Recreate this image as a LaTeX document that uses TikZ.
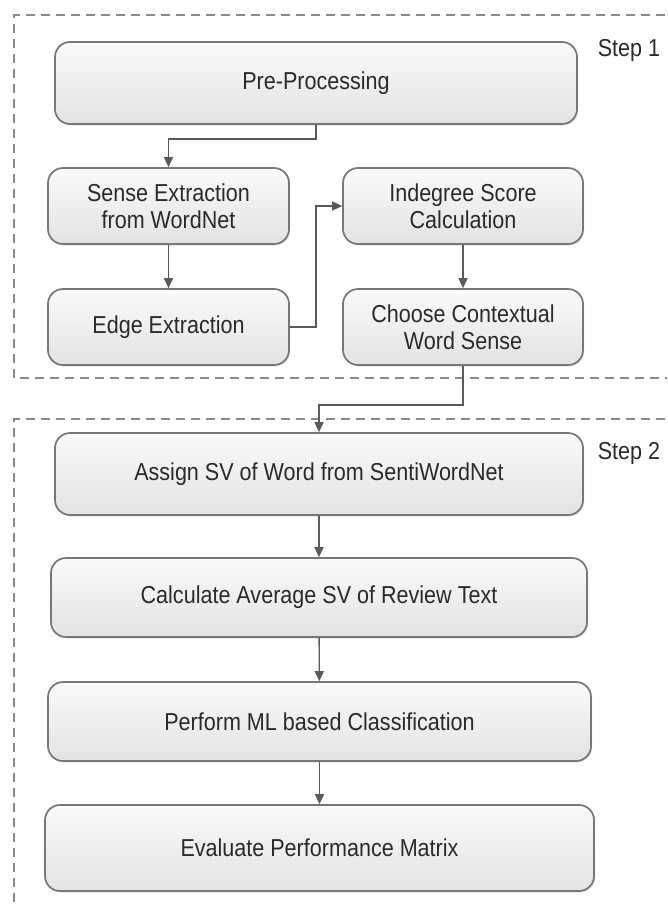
\documentclass[tikz,border=0pt]{standalone}
\usepackage{fontspec}
\setmainfont[FakeStretch=0.88]{Liberation Sans}
\usetikzlibrary{arrows.meta,shadows}
\definecolor{boxline}{HTML}{777777}
\definecolor{arrowc}{HTML}{5A5A5A}
\definecolor{dashc}{HTML}{8A8A8A}
\definecolor{txt}{HTML}{2A2A2A}
\tikzset{
  procbox/.style={draw=boxline, line width=1.7pt, rounded corners=15pt,
    top color=white!98!black, bottom color=white!89!black,
    drop shadow={shadow xshift=1.2pt, shadow yshift=-1.5pt, opacity=0.25},
    inner sep=0pt, align=center, text=txt,
    font=\fontsize{24.5}{27}\selectfont},
  conn/.style={draw=arrowc, line width=1.4pt, -{Triangle[length=10pt,width=9pt]}},
  frame/.style={draw=dashc, line width=1.6pt, dash pattern=on 9pt off 6pt},
  steplabel/.style={text=txt, font=\fontsize{24.5}{26}\selectfont, inner sep=0pt}
}
\begin{document}
\begin{tikzpicture}[x=1pt,y=-1pt]
\useasboundingbox (0,0) rectangle (667,907);
\begin{scope}
\clip (0,0) rectangle (667,907);
% dashed frames
\draw[frame] (680,15) -- (14,15) -- (14,378) -- (680,378);
\draw[frame] (680,419) -- (14,419) -- (14,920);
\end{scope}
% step labels
\node[steplabel] (s1) at (629,50) {Step 1};
\node[steplabel] (s2) at (629,453) {Step 2};
% boxes
\node[procbox, minimum width=522pt, minimum height=82pt] (pre) at (316,83) {Pre-Processing};
\node[procbox, minimum width=241pt, minimum height=76pt] (sense) at (168.5,206) {Sense Extraction\\from WordNet};
\node[procbox, minimum width=241pt, minimum height=76pt] (edge) at (168.5,327) {Edge Extraction};
\node[procbox, minimum width=240pt, minimum height=76pt] (indeg) at (463,206) {Indegree Score\\Calculation};
\node[procbox, minimum width=240pt, minimum height=76pt] (choose) at (463,327) {Choose Contextual\\Word Sense};
\node[procbox, minimum width=528pt, minimum height=82pt] (assign) at (319,474) {Assign SV of Word from SentiWordNet};
\node[procbox, minimum width=536pt, minimum height=79pt] (calc) at (319,597.5) {Calculate Average SV of Review Text};
\node[procbox, minimum width=543pt, minimum height=79pt] (perf) at (319.5,721.5) {Perform ML based Classification};
\node[procbox, minimum width=549pt, minimum height=86pt] (eval) at (319.5,848) {Evaluate Performance Matrix};
% connectors
\draw[conn] (pre.south) |- (168.5,139) -- (sense.north);
\draw[conn] (sense) -- (edge);
\draw[conn] (edge.east) -| (316,206) -- (indeg.west);
\draw[conn] (indeg) -- (choose);
\draw[conn] (choose.south) |- (319,405) -- (assign.north);
\draw[conn] (assign) -- (calc);
\draw[conn] (calc) -- (perf);
\draw[conn] (perf) -- (eval);
\end{tikzpicture}
\end{document}
